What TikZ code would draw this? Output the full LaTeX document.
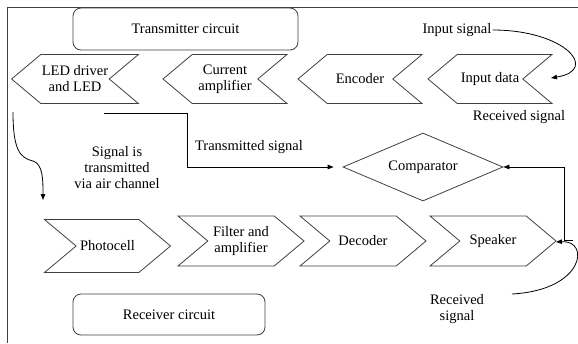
\documentclass[tikz,border=0pt]{standalone}
\usepackage{fontspec}
\setmainfont{Liberation Serif}
\usetikzlibrary{shapes.symbols,shapes.geometric,arrows.meta}

\begin{document}
\begin{tikzpicture}[x=1pt, y=-1pt,
      font=\fontsize{14.5}{16}\selectfont,
      edge/.style  = {draw=black!75, line width=0.8pt},
      txchev/.style = {signal, signal to=west, signal from=east,
                       signal pointer angle=80, edge, align=center,
                       inner sep=1pt, minimum width=124pt, minimum height=49pt},
      rxchev/.style = {signal, signal to=east, signal from=west,
                       signal pointer angle=80, edge, align=center,
                       inner sep=1pt, minimum width=126pt, minimum height=50pt},
      panel/.style = {rectangle, rounded corners=8pt, edge},
      arrow/.style = {-{Triangle[length=6pt,width=4.5pt]}, edge, black},
      label/.style = {align=center, inner sep=1pt}
    ]
    \useasboundingbox (0,0) rectangle (578,343);
    % Frame
    \draw[edge] (578,7) -- (7,7) -- (7,343);

    % Titles
    \node[panel, minimum width=225pt, minimum height=42pt] (txtitle) at (185.5,29) {Transmitter circuit};
    \node[panel, minimum width=192pt, minimum height=41pt] (rxtitle) at (169,314.5) {Receiver circuit};

    % Transmitter chain
    \node[txchev] (indata)  at (490,79) {Input data};
    \node[txchev] (encoder) at (360,79) {Encoder};
    \node[txchev] (curamp)  at (225,79) {Current\\amplifier};
    \node[txchev] (led)     at (75,79)  {LED driver\\and LED};

    % Receiver chain
    \node[rxchev, minimum height=53pt] (photo) at (107.5,246) {Photocell};
    \node[rxchev] (filter)  at (241,241) {Filter and\\amplifier};
    \node[rxchev] (decoder) at (363,241) {Decoder};
    \node[rxchev] (speaker) at (493,241) {Speaker};

    % Comparator
    \node[diamond, edge, minimum width=160pt, minimum height=68pt,
          inner sep=0pt, aspect=2.35] (comp) at (423,167) {Comparator};

    % Labels
    \node[label] (inlbl)   at (457,30)  {Input signal};
    \node[label] (rxlbl)   at (519,117) {Received signal};
    \node[label] (txlbl)   at (249,147) {Transmitted signal};
    \node[label] (airlbl)  at (117,168) {Signal is\\transmitted\\via air channel};
    \node[label] (rxlbl2)  at (457,309) {Received\\signal};

    % Free ends
    \coordinate (inend)  at (551,78);
    \coordinate (ledout) at (13,112);
    \coordinate (airend) at (43,200);
    \coordinate (txout)  at (104,113);
    \coordinate (txbend) at (187,113);
    \coordinate (rxstub) at (573,240);
    \coordinate (spkin)  at (512,294);
    \coordinate (spkend) at (556,242);

    % Arrows
    \draw[arrow] (inlbl.east) .. controls (565,30) and (600,70) .. (inend);
    \draw[arrow] (ledout) .. controls (13,150) and (20,158) .. (33,161)
                          .. controls (43,164) and (43,180) .. (airend);
    \draw[arrow, shorten >=9pt] (txout) -- (txbend) |- (comp.west);
    \draw[arrow] (rxstub) -- ++(-9,0) |- (comp.east);
    \draw[arrow] (spkin) .. controls (585,290) and (590,240) .. (spkend);
  \end{tikzpicture}
\end{document}
